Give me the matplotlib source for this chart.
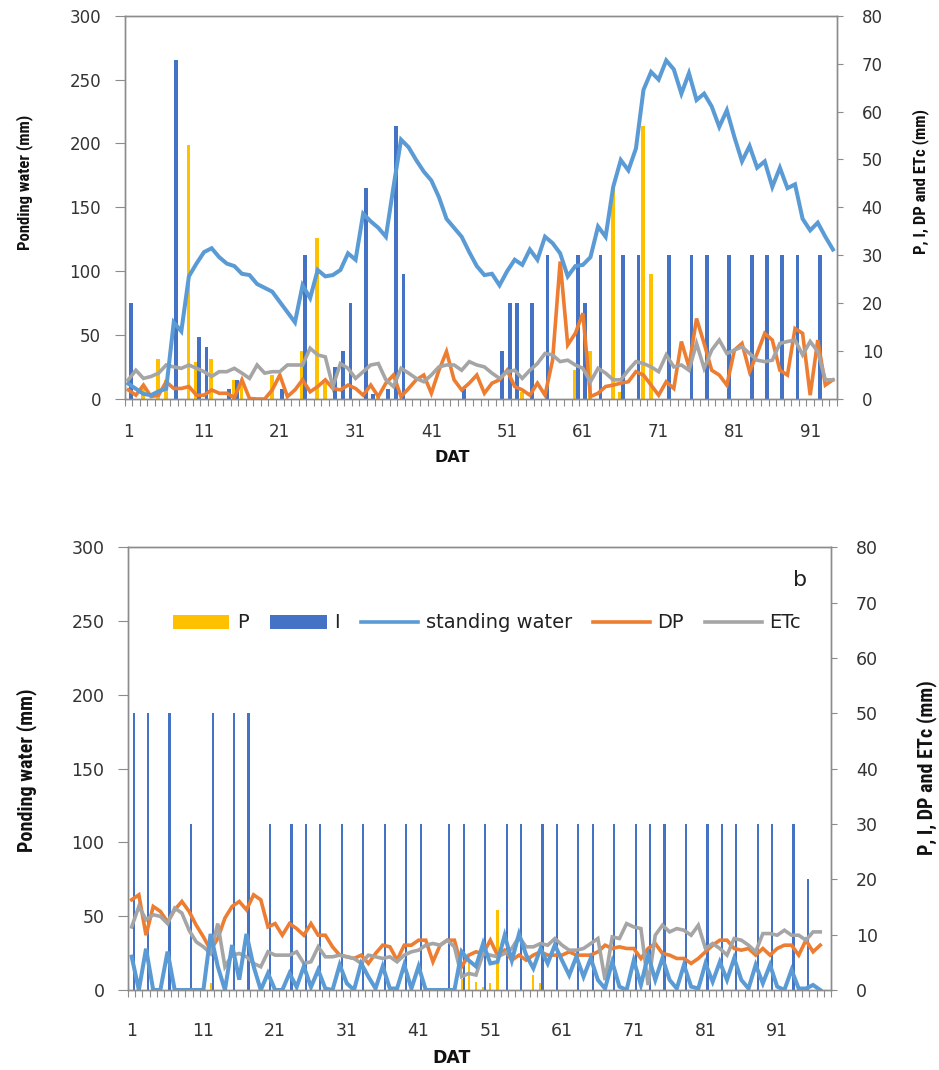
import numpy as np
import matplotlib
matplotlib.use("Agg")
import matplotlib.pyplot as plt
from matplotlib.patches import Patch
from matplotlib.lines import Line2D

# ---------------- data: panel a (top) ----------------
top_days = list(range(1, 95))
top_standing_water = [12, 8, 4, 3, 6, 8, 60, 53, 96, 106, 115, 118, 111, 106, 104, 98, 97, 90, 87, 84,
                      76, 68, 60, 89, 79, 101, 96, 97, 101, 114, 109, 145, 139, 134, 127, 166, 203, 197, 187, 178,
                      171, 158, 141, 134, 127, 115, 104, 97, 98, 89, 100, 109, 105, 117, 109, 127, 122, 114, 96, 104,
                      105, 111, 135, 127, 166, 187, 179, 196, 242, 256, 250, 265, 258, 239, 255, 234, 239, 229, 213, 226,
                      205, 186, 198, 181, 186, 166, 181, 165, 168, 141, 132, 138, 127, 117]
top_DP = [1.9, 0.8, 2.9, 0.5, 0.8, 3.6, 2.2, 2.2, 2.6, 0.8, 0.8, 1.9, 1.2, 1.2, 0.3, 4.0, 0.1, 0.0, 0.0, 1.9,
          5.0, 0.5, 1.9, 4.0, 1.5, 2.6, 4.0, 2.2, 1.9, 2.9, 2.2, 0.8, 2.9, 0.5, 3.3, 5.0, 0.5, 2.2, 4.0, 5.0,
          1.2, 6.0, 9.9, 4.0, 1.9, 3.3, 5.0, 1.2, 3.3, 4.0, 6.0, 2.6, 1.9, 0.8, 3.3, 0.8, 8.1, 28.7, 11.3, 13.7,
          17.9, 0.5, 1.2, 2.6, 2.9, 3.3, 3.6, 5.7, 5.0, 2.9, 0.8, 3.6, 2.2, 12.0, 6.7, 16.8, 11.6, 6.0, 5.0, 2.9,
          10.2, 11.6, 5.7, 9.5, 13.7, 12.3, 6.0, 5.0, 14.7, 13.7, 0.8, 12.3, 2.9, 4.0]
top_ETc = [4.0, 6.0, 4.3, 4.7, 5.4, 7.1, 6.7, 6.4, 7.1, 6.4, 5.7, 4.7, 5.7, 5.7, 6.4, 5.4, 4.3, 7.1, 5.4, 5.7,
           5.7, 7.1, 7.1, 7.1, 10.6, 9.2, 8.8, 2.6, 7.4, 6.4, 4.3, 5.7, 7.1, 7.4, 4.0, 2.6, 6.4, 5.4, 4.3, 3.6,
           5.0, 6.7, 7.1, 7.1, 6.0, 7.8, 7.1, 6.7, 5.4, 4.3, 5.7, 6.0, 4.3, 6.0, 7.4, 9.5, 9.2, 7.8, 8.1, 7.1,
           6.4, 3.6, 6.4, 5.4, 4.0, 4.0, 6.0, 7.8, 7.4, 6.7, 5.7, 9.2, 6.7, 7.1, 6.0, 11.6, 6.4, 10.2, 12.3, 9.5,
           10.2, 10.9, 9.5, 8.1, 7.8, 8.1, 11.6, 12.0, 12.3, 9.2, 12.0, 9.9, 4.0, 4.0]
top_P_days = [3, 5, 6, 9, 10, 12, 15, 16, 20, 24, 26, 27, 34, 53, 60, 62, 65, 66, 69, 70]
top_P_mm = [3.0, 8.3, 4.0, 53.0, 7.8, 8.3, 4.0, 4.0, 5.0, 10.0, 33.6, 3.3, 1.0, 1.5, 6.0, 10.0, 44.0, 1.5, 57.0, 26.0]
top_I_days = [1, 7, 10, 11, 14, 15, 21, 24, 28, 29, 30, 32, 33, 35, 36, 37, 45, 50, 51, 52, 54, 56,
              60, 61, 63, 66, 68, 72, 75, 77, 80, 83, 85, 87, 89, 92]
top_I_mm = [20, 70.7, 13, 10.9, 2, 4, 2, 30, 6.7, 10, 20, 44, 1, 2, 57, 26, 2, 10, 20, 20, 20, 30,
            30, 20, 30, 30, 30, 30, 30, 30, 30, 30, 30, 30, 30, 30]

# ---------------- data: panel b (bottom) ----------------
bot_days = list(range(1, 98))
bot_standing_water = [22.6, 0, 28, 0, 0, 26, 0, 0, 0, 0, 0, 38, 16, 0, 30.5, 7, 38, 16, 0, 11.3,
                      0, 0, 11.3, 2, 16, 2, 13.6, 1, 0, 17, 4.5, 0, 18, 9, 1, 16, 1, 1, 17, 1,
                      16, 0, 0, 0, 0, 0, 26, 20, 16, 31.6, 18, 19, 37, 20, 38, 23.7, 14.7, 28, 18, 30.5,
                      20, 10, 22.6, 9, 21.5, 6.8, 1, 19, 2.3, 0, 20, 3.4, 23.7, 6.8, 21.5, 6.8, 1, 17, 2.3, 1,
                      18, 5.6, 19, 6.8, 21.5, 6.8, 1, 17, 4.5, 17, 2.3, 0, 13.6, 1, 1, 3.4, 0]
bot_DP = [16.3, 17.2, 9.9, 15.1, 14.2, 12.3, 14.5, 16.0, 14.2, 11.7, 9.6, 7.2, 9.3, 13.0, 15.1, 16.0, 14.5, 17.2, 16.3, 11.4,
          12.0, 9.9, 12.0, 11.1, 9.9, 12.0, 9.9, 9.9, 7.8, 6.3, 6.0, 5.7, 6.3, 4.8, 6.6, 8.1, 7.8, 5.4, 8.1, 8.1,
          9.0, 9.0, 5.1, 8.1, 9.0, 9.0, 4.2, 6.3, 6.9, 6.6, 9.0, 6.3, 7.2, 5.4, 6.3, 5.4, 6.3, 6.9, 6.3, 6.3,
          6.3, 6.9, 6.3, 6.3, 6.3, 6.9, 8.1, 7.5, 7.8, 7.5, 7.5, 5.7, 7.5, 8.4, 6.6, 6.3, 5.7, 5.7, 4.8, 5.7,
          6.9, 8.1, 9.0, 9.0, 7.5, 7.2, 7.5, 6.3, 7.5, 6.3, 7.5, 8.1, 8.1, 6.3, 9.0, 6.9, 8.1]
bot_ETc = [11.4, 15.1, 12.7, 13.6, 13.3, 12.0, 14.8, 13.9, 10.8, 8.7, 7.8, 6.6, 12.0, 4.2, 6.3, 6.6, 6.0, 4.8, 4.2, 6.9,
           6.3, 6.3, 6.3, 6.9, 4.8, 5.1, 7.8, 6.0, 6.0, 6.3, 6.0, 5.7, 4.8, 6.3, 6.0, 5.7, 6.0, 5.1, 6.3, 6.9,
           7.2, 8.1, 8.4, 8.1, 9.0, 7.8, 2.4, 3.0, 2.7, 6.6, 6.3, 6.0, 6.6, 7.5, 9.6, 7.8, 7.8, 8.4, 8.1, 9.3,
           8.1, 7.2, 7.2, 7.5, 8.4, 9.3, 1.8, 9.6, 9.3, 12.0, 11.4, 11.1, 0.9, 9.9, 11.7, 10.5, 11.1, 10.8, 9.9, 11.7,
           7.5, 8.4, 7.5, 6.3, 9.3, 9.0, 8.1, 6.9, 10.2, 10.2, 9.9, 10.8, 9.9, 9.9, 9.0, 10.5, 10.5]
bot_P_days = [12, 47, 48, 49, 50, 51, 52, 57, 58]
bot_P_mm = [1.2, 2.0, 5.0, 1.5, 0.6, 1.2, 14.5, 2.7, 1.2]
bot_I_days = [1, 3, 6, 9, 12, 15, 17, 20, 23, 25, 27, 30, 33, 36, 39, 41, 45, 47, 50, 53, 55, 58, 60,
              63, 65, 68, 71, 73, 75, 78, 81, 83, 85, 88, 90, 93, 95]
bot_I_mm = [50, 50, 50, 30, 50, 50, 50, 30, 30, 30, 30, 30, 30, 30, 30, 30, 30, 30, 30, 30, 30, 30, 30,
            30, 30, 30, 30, 30, 30, 30, 30, 30, 30, 30, 30, 30, 20]

x_tick_labels = [1, 11, 21, 31, 41, 51, 61, 71, 81, 91]
left_ticks = [0, 50, 100, 150, 200, 250, 300]
right_ticks = [0, 10, 20, 30, 40, 50, 60, 70, 80]

# ---------------- styling ----------------
C_P = "#FFC000"
C_I = "#4472C4"
C_SW = "#5B9BD5"
C_DP = "#ED7D31"
C_ET = "#A5A5A5"
SPINE = "#8C8C8C"
TXT = "#333333"
LABEL_FONT = ["Liberation Sans Narrow", "Roboto Condensed", "DejaVu Sans"]

W, H = 939, 1070
fig = plt.figure(figsize=(W / 100, H / 100), dpi=100)


def px_rect(x0, y0, x1, y1):
    return [x0 / W, 1 - y1 / H, (x1 - x0) / W, (y1 - y0) / H]


def panel(rect, n_cat, days, sw, dp, et, p_days, p_mm, i_days, i_mm,
          bar_w, p_off, i_off, lw, tick_fs, xpad):
    ax = fig.add_axes(rect)
    ax2 = ax.twinx()
    ax.set_zorder(2)
    ax2.set_zorder(1)
    ax.patch.set_visible(False)

    ax2.bar(np.array(p_days) + p_off, p_mm, width=bar_w, color=C_P, zorder=2, linewidth=0)
    ax2.bar(np.array(i_days) + i_off, i_mm, width=bar_w, color=C_I, zorder=2, linewidth=0)
    ax2.plot(days, dp, color=C_DP, lw=lw, zorder=3, solid_joinstyle="miter")
    ax2.plot(days, et, color=C_ET, lw=lw, zorder=4, solid_joinstyle="miter")
    ax.plot(days, sw, color=C_SW, lw=lw + 0.3, zorder=3, solid_joinstyle="miter")

    ax.set_xlim(0.5, n_cat + 0.5)
    ax.set_ylim(0, 300)
    ax2.set_ylim(0, 80)
    ax.set_yticks(left_ticks)
    ax2.set_yticks(right_ticks)
    ax.set_xticks(x_tick_labels)
    ax.set_xticks(np.arange(0.5, n_cat + 1, 1.0), minor=True)

    for a in (ax, ax2):
        for s in a.spines.values():
            s.set_color(SPINE)
            s.set_linewidth(1.0)
    ax.tick_params(axis="x", which="major", length=0, pad=xpad, labelsize=tick_fs, labelcolor=TXT)
    ax.tick_params(axis="x", which="minor", length=5, width=0.8, color=SPINE, direction="out")
    ax.tick_params(axis="y", which="major", length=7, width=0.8, color=SPINE, pad=10,
                   labelsize=tick_fs, labelcolor=TXT)
    ax2.tick_params(axis="y", which="major", length=4, width=0.8, color=SPINE, pad=14,
                    labelsize=tick_fs, labelcolor=TXT)
    return ax, ax2


# ---------------- top panel ----------------
axa, axa2 = panel(px_rect(124.5, 15.7, 836.7, 399), 94, top_days, top_standing_water, top_DP, top_ETc,
                  top_P_days, top_P_mm, top_I_days, top_I_mm,
                  bar_w=0.5, p_off=-0.05, i_off=0.33, lw=2.6, tick_fs=12, xpad=17)
fig.text(25 / W, 1 - 182 / H, "Ponding water (mm)", rotation=90, ha="center", va="center",
         fontsize=12, fontweight="bold", family=LABEL_FONT, color="#111111")
fig.text(921 / W, 1 - 182 / H, "P, I, DP and ETc (mm)", rotation=90, ha="center", va="center",
         fontsize=12, fontweight="bold", family=LABEL_FONT, color="#111111")
fig.text(452 / W, 1 - 458 / H, "DAT", ha="center", va="center", fontsize=11.5, fontweight="bold",
         color="#111111")

# ---------------- bottom panel ----------------
axb, axb2 = panel(px_rect(128.1, 547.3, 831, 990), 98, bot_days, bot_standing_water, bot_DP, bot_ETc,
                  bot_P_days, bot_P_mm, bot_I_days, bot_I_mm,
                  bar_w=0.3, p_off=0.0, i_off=0.28, lw=2.6, tick_fs=12.5, xpad=23)
fig.text(27 / W, 1 - 770 / H, "Ponding water (mm)", rotation=90, ha="center", va="center",
         fontsize=14.5, fontweight="bold", family=LABEL_FONT, color="#111111")
fig.text(927 / W, 1 - 768 / H, "P, I, DP and ETc (mm)", rotation=90, ha="center", va="center",
         fontsize=14.5, fontweight="bold", family=LABEL_FONT, color="#111111")
fig.text(452 / W, 1 - 1058 / H, "DAT", ha="center", va="center", fontsize=12.5, fontweight="bold",
         color="#111111")
fig.text(800 / W, 1 - 580 / H, "b", ha="center", va="center", fontsize=16, color="#222222")

handles = [Patch(facecolor=C_P, edgecolor="none"), Patch(facecolor=C_I, edgecolor="none"),
           Line2D([], [], color=C_SW, lw=2.6), Line2D([], [], color=C_DP, lw=2.6),
           Line2D([], [], color=C_ET, lw=2.6)]
labels = ["P", "I", "standing water", "DP", "ETc"]
fig.legend(handles, labels, loc="center", bbox_to_anchor=(487 / W, 1 - 623 / H), ncol=5,
           frameon=False, fontsize=14, handlelength=2.9, handleheight=0.7, handletextpad=0.4,
           columnspacing=1.1, labelcolor="#222222")

fig.savefig("out.png", dpi=100)
